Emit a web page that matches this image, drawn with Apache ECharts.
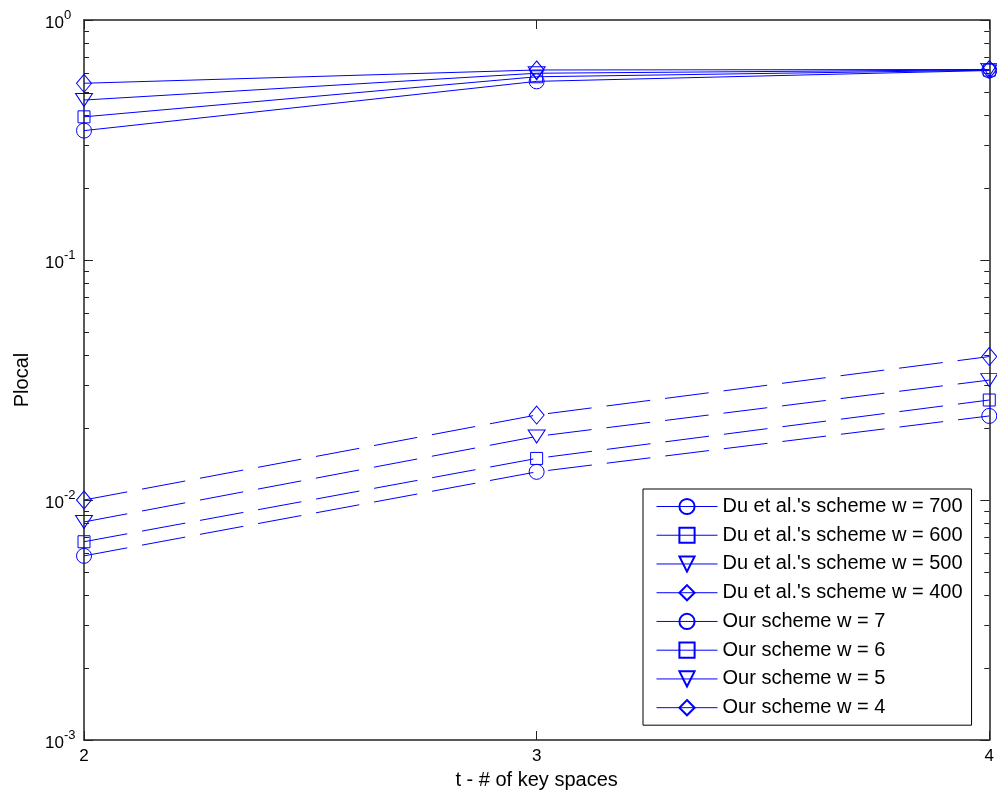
<!DOCTYPE html>
<html>
<head>
<meta charset="utf-8">
<script src="https://cdn.jsdelivr.net/npm/echarts@6/dist/echarts.min.js"></script>
<style>html,body{margin:0;padding:0;background:#fff}#c{width:997px;height:796px}</style>
</head>
<body>
<div id="c"></div>
<script>
// ---- data ----
var xValues = [2, 3, 4];
var seriesNames = [
  "Du et al.'s scheme w = 700",
  "Du et al.'s scheme w = 600",
  "Du et al.'s scheme w = 500",
  "Du et al.'s scheme w = 400",
  "Our scheme w = 7",
  "Our scheme w = 6",
  "Our scheme w = 5",
  "Our scheme w = 4"
];
var du700 = [0.00585, 0.0131, 0.0224];
var du600 = [0.0067, 0.0149, 0.0261];
var du500 = [0.0081, 0.0184, 0.0316];
var du400 = [0.0100, 0.0226, 0.0396];
var our7 = [0.346, 0.555, 0.616];
var our6 = [0.395, 0.580, 0.618];
var our5 = [0.464, 0.600, 0.620];
var our4 = [0.545, 0.619, 0.622];
var xTickValues = [2, 3, 4];
var yTickValues = [0.001, 0.01, 0.1, 1];
var yTickExponents = ['-3', '-2', '-1', '0'];
var yMinorTickValues = [
  0.002, 0.003, 0.004, 0.005, 0.006, 0.007, 0.008, 0.009,
  0.02, 0.03, 0.04, 0.05, 0.06, 0.07, 0.08, 0.09,
  0.2, 0.3, 0.4, 0.5, 0.6, 0.7, 0.8, 0.9
];

// ---- styling ----
var BLUE = '#0000ff';
var AX = '#222';
var FONT = 'Arial, "Liberation Sans", sans-serif';
var seriesValues = [du700, du600, du500, du400, our7, our6, our5, our4];
var symbols = ['circle', 'rect', 'triangle', 'diamond', 'circle', 'rect', 'triangle', 'diamond'];
var symbolSizes = [15, 12, [17, 13], [15, 18], 15, 12, [17, 13], [15, 18]];
var rotates = [0, 0, 180, 0, 0, 0, 180, 0];

var series = seriesValues.map(function (vals, i) {
  var dashed = i < 4;
  return {
    name: seriesNames[i],
    type: 'line',
    xAxisIndex: 0,
    yAxisIndex: 0,
    data: xValues.map(function (x, j) { return [x, vals[j]]; }),
    symbol: symbols[i],
    symbolSize: symbolSizes[i],
    symbolRotate: rotates[i],
    showAllSymbol: true,
    lineStyle: { color: BLUE, width: 1, type: dashed ? [44, 15] : 'solid' },
    itemStyle: { color: 'rgba(0,0,0,0)', borderColor: BLUE, borderWidth: 1 },
    emphasis: { disabled: true },
    animation: false,
    z: 2
  };
});

function yLabel(v) {
  var idx = yTickValues.indexOf(v);
  var e = idx >= 0 ? yTickExponents[idx] : String(Math.round(Math.log10(v)));
  return '{b|10}{s|' + e + '}';
}

var yRich = {
  b: { fontSize: 17, fontFamily: FONT, color: '#000', lineHeight: 23, verticalAlign: 'bottom' },
  s: { fontSize: 13, fontFamily: FONT, color: '#000', lineHeight: 23, verticalAlign: 'top' }
};

var option = {
  backgroundColor: '#fff',
  animation: false,
  grid: { left: 84, right: 4, top: 20, bottom: 56, containLabel: false },
  legend: {
    orient: 'vertical',
    left: 643,
    top: 489,
    backgroundColor: '#fff',
    borderColor: '#000',
    borderWidth: 1,
    padding: [7.5, 9, 7.5, 13],
    itemWidth: 61,
    itemHeight: 19,
    itemGap: 8.74,
    textStyle: { fontSize: 20, lineHeight: 19, fontFamily: FONT, color: '#000' },
    data: seriesNames.map(function (n) { return { name: n, lineStyle: { type: 'solid', width: 1 } }; }),
    selectedMode: false,
    z: 10
  },
  xAxis: [
    {
      type: 'value', position: 'bottom', min: 2, max: 4, interval: 1,
      axisLine: { show: true, onZero: false, lineStyle: { color: AX, width: 1.5 } },
      axisTick: { show: true, inside: true, length: 9, lineStyle: { color: AX } },
      axisLabel: { fontSize: 17, fontFamily: FONT, color: '#000', margin: 8, customValues: xTickValues },
      splitLine: { show: false },
      name: 't - # of key spaces', nameLocation: 'middle', nameGap: 30,
      nameTextStyle: { fontSize: 20, fontFamily: FONT, color: '#000' }
    },
    {
      type: 'value', position: 'top', min: 2, max: 4, interval: 1,
      axisLine: { show: true, onZero: false, lineStyle: { color: AX, width: 1.5 } },
      axisTick: { show: true, inside: true, length: 9, lineStyle: { color: AX } },
      axisLabel: { show: false },
      splitLine: { show: false }
    }
  ],
  yAxis: [
    {
      type: 'log', logBase: 10, position: 'left', min: 0.001, max: 1,
      axisLine: { show: true, onZero: false, lineStyle: { color: AX, width: 1.5 } },
      axisTick: { show: true, inside: true, length: 9, lineStyle: { color: AX }, customValues: yTickValues },
      axisLabel: { fontSize: 17, fontFamily: FONT, color: '#000', margin: 39, align: 'left',
        customValues: yTickValues, formatter: yLabel, rich: yRich },
      splitLine: { show: false },
      minorTick: { show: false },
      name: 'Plocal', nameLocation: 'middle', nameGap: 52,
      nameTextStyle: { fontSize: 20, fontFamily: FONT, color: '#000' }
    },
    {
      type: 'log', logBase: 10, position: 'right', min: 0.001, max: 1,
      axisLine: { show: true, onZero: false, lineStyle: { color: AX, width: 1.5 } },
      axisTick: { show: true, inside: true, length: 9, lineStyle: { color: AX }, customValues: yTickValues },
      axisLabel: { show: false },
      splitLine: { show: false }
    },
    {
      type: 'log', logBase: 10, position: 'left', min: 0.001, max: 1,
      axisLine: { show: false },
      axisTick: { show: true, inside: true, length: 5, lineStyle: { color: AX }, customValues: yMinorTickValues },
      axisLabel: { show: false },
      splitLine: { show: false }
    },
    {
      type: 'log', logBase: 10, position: 'right', min: 0.001, max: 1,
      axisLine: { show: false },
      axisTick: { show: true, inside: true, length: 5, lineStyle: { color: AX }, customValues: yMinorTickValues },
      axisLabel: { show: false },
      splitLine: { show: false }
    }
  ],
  series: series
};

var chart = echarts.init(document.getElementById('c'), null, { renderer: 'canvas' });
chart.setOption(option);
</script>
</body>
</html>
